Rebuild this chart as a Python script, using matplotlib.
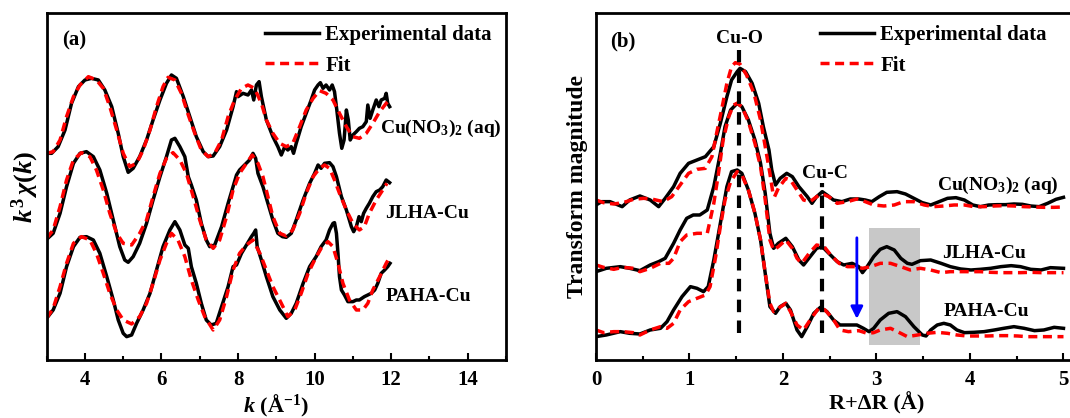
import matplotlib
matplotlib.use('Agg')
import matplotlib.pyplot as plt
from matplotlib.patches import Rectangle

plt.rcParams['font.family'] = ['Liberation Serif', 'DejaVu Serif']
plt.rcParams['font.weight'] = 'bold'
plt.rcParams['axes.labelweight'] = 'bold'
plt.rcParams['mathtext.fontset'] = 'custom'
plt.rcParams['mathtext.rm'] = 'Liberation Serif:bold'
plt.rcParams['mathtext.it'] = 'Liberation Serif:bold:italic'
plt.rcParams['mathtext.bf'] = 'Liberation Serif:bold'

# ---- panel (a): k^3 chi(k), values relative to each curve's baseline ----
cu_k = [3.00, 3.13, 3.30, 3.48, 3.65, 3.83, 4.00, 4.17, 4.35, 4.52, 4.70, 4.87, 5.00, 5.13, 5.26, 5.43,
        5.61, 5.78, 5.96, 6.13, 6.26, 6.39, 6.57, 6.74, 6.91, 7.09, 7.22, 7.35, 7.52, 7.70, 7.87, 7.96,
        8.00, 8.13, 8.26, 8.35, 8.41, 8.48, 8.55, 8.61, 8.74, 8.91, 9.04, 9.13, 9.22, 9.30, 9.39, 9.45,
        9.52, 9.65, 9.78, 9.91, 10.00, 10.09, 10.15, 10.22, 10.30, 10.39, 10.46, 10.52, 10.58, 10.65,
        10.71, 10.77, 10.83, 10.88, 10.93, 11.00, 11.09, 11.17, 11.26, 11.35, 11.39, 11.45, 11.52,
        11.61, 11.68, 11.74, 11.83, 11.87, 11.91, 11.96]
cu_exp = [2.0, 2.0, 4.0, 9.0, 17.0, 22.0, 24.0, 24.5, 24.0, 21.0, 16.0, 8.0, 1.0, -3.7, -2.5, 1.0,
          6.0, 12.0, 18.0, 23.0, 25.5, 24.5, 19.0, 13.0, 7.0, 2.5, 1.0, 1.2, 4.0, 9.0, 16.0, 20.5,
          19.0, 20.0, 19.5, 21.0, 18.0, 22.5, 23.5, 19.0, 12.0, 7.0, 4.0, 1.5, 4.0, 3.0, 4.0, 2.0,
          5.0, 10.0, 14.0, 18.0, 21.0, 22.5, 23.2, 21.5, 22.5, 21.0, 22.5, 20.5, 15.0, 8.0,
          3.5, 6.0, 15.0, 12.0, 6.0, 7.5, 8.5, 9.5, 10.0, 11.5, 16.5, 12.5, 15.0,
          18.0, 16.0, 18.0, 18.5, 20.0, 17.0, 16.0]
cu_fit_k = [3.00, 3.17, 3.35, 3.52, 3.70, 3.87, 4.09, 4.30, 4.48, 4.65, 4.83, 5.00, 5.17, 5.35, 5.52,
            5.70, 5.87, 6.04, 6.17, 6.35, 6.52, 6.70, 6.87, 7.04, 7.22, 7.39, 7.57, 7.74, 7.91, 8.09,
            8.26, 8.43, 8.61, 8.74, 8.91, 9.09, 9.26, 9.43, 9.61, 9.78, 9.96, 10.13, 10.30, 10.48,
            10.65, 10.83, 11.00, 11.17, 11.35, 11.52, 11.70, 11.87, 11.97]
cu_fit = [2.0, 2.5, 6.0, 13.0, 19.0, 22.5, 25.0, 24.0, 21.5, 16.0, 9.0, 2.0, -2.0, -1.0, 3.0,
          9.0, 16.0, 22.0, 24.8, 24.0, 20.0, 13.5, 8.0, 3.0, 1.0, 2.0, 6.0, 13.0, 18.0, 21.5,
          22.5, 21.5, 17.0, 12.0, 8.0, 5.0, 4.0, 5.0, 10.0, 15.0, 18.5, 20.8, 20.0, 18.0,
          14.0, 10.0, 7.0, 6.5, 8.0, 11.0, 14.5, 17.0, 18.0]

jl_k = [3.00, 3.17, 3.35, 3.52, 3.70, 3.87, 4.04, 4.22, 4.39, 4.57, 4.74, 4.91, 5.04, 5.13, 5.26, 5.43,
        5.61, 5.78, 5.96, 6.13, 6.26, 6.35, 6.48, 6.61, 6.70, 6.78, 6.91, 7.04, 7.17, 7.26, 7.39, 7.57,
        7.74, 7.87, 7.96, 8.04, 8.17, 8.30, 8.39, 8.46, 8.52, 8.65, 8.78, 8.91, 9.04, 9.16, 9.26, 9.39,
        9.52, 9.70, 9.87, 10.00, 10.09, 10.17, 10.26, 10.39, 10.48, 10.57, 10.70, 10.83, 10.96, 11.02,
        11.09, 11.16, 11.22, 11.28, 11.35, 11.43, 11.52, 11.61, 11.70, 11.78, 11.87, 11.96]
jl_exp = [0.2, 2.0, 8.0, 16.0, 23.0, 26.0, 26.5, 25.0, 21.0, 14.0, 6.0, -2.0, -6.0, -6.7, -5.0, -1.0,
          5.0, 12.0, 19.0, 25.0, 30.0, 30.5, 28.0, 25.0, 19.0, 16.5, 12.0, 5.0, 0.0, -2.0, -1.5, 4.0,
          11.0, 16.0, 19.5, 21.0, 22.5, 24.0, 26.0, 24.5, 20.0, 16.0, 11.0, 6.0, 2.0, 1.0, 0.8, 2.0,
          6.0, 12.0, 17.0, 20.0, 22.5, 21.5, 23.0, 23.2, 22.0, 19.0, 13.0, 9.0, 4.0, 2.5,
          4.0, 7.0, 5.5, 8.0, 9.5, 11.0, 13.0, 14.5, 15.0, 16.0, 18.0, 17.2]
jl_fit_k = [3.00, 3.17, 3.35, 3.52, 3.70, 3.91, 4.13, 4.30, 4.48, 4.65, 4.83, 5.00, 5.22, 5.43, 5.61,
            5.78, 5.96, 6.13, 6.30, 6.48, 6.65, 6.83, 7.00, 7.17, 7.35, 7.52, 7.70, 7.87, 8.04, 8.22,
            8.37, 8.52, 8.65, 8.78, 8.91, 9.09, 9.26, 9.43, 9.61, 9.78, 9.96, 10.13, 10.26, 10.39,
            10.52, 10.65, 10.83, 11.00, 11.17, 11.30, 11.43, 11.61, 11.78, 11.89]
jl_fit = [0.5, 3.0, 10.0, 18.0, 24.0, 26.2, 25.0, 21.0, 15.0, 8.0, 2.0, -1.0, -1.5, 2.0, 6.0,
          13.0, 20.0, 24.5, 26.2, 24.0, 20.0, 13.0, 6.0, 0.0, -2.5, 0.0, 7.0, 15.0, 20.0, 23.0,
          25.5, 23.0, 19.0, 13.0, 7.0, 2.0, 1.2, 3.0, 8.0, 14.0, 19.0, 21.5, 22.5, 21.5,
          18.0, 14.0, 9.0, 5.0, 3.0, 4.0, 8.0, 12.0, 15.0, 17.0]

pa_k = [3.00, 3.17, 3.35, 3.52, 3.70, 3.87, 4.04, 4.22, 4.39, 4.57, 4.74, 4.87, 5.00, 5.09, 5.22, 5.35,
        5.52, 5.70, 5.87, 6.04, 6.22, 6.35, 6.48, 6.61, 6.70, 6.78, 6.91, 7.04, 7.17, 7.30, 7.43, 7.57,
        7.74, 7.87, 7.96, 8.09, 8.22, 8.35, 8.41, 8.46, 8.50, 8.61, 8.74, 8.91, 9.09, 9.26, 9.39, 9.52,
        9.70, 9.87, 10.04, 10.17, 10.30, 10.39, 10.48, 10.52, 10.57, 10.61, 10.65, 10.70, 10.78, 10.87,
        11.00, 11.09, 11.17, 11.30, 11.39, 11.48, 11.57, 11.65, 11.74, 11.83, 11.91, 11.97]
pa_exp = [0.5, 3.0, 8.0, 16.0, 22.0, 24.8, 25.0, 24.0, 20.0, 13.0, 6.0, 0.0, -4.0, -5.0, -4.5, -1.0,
          3.0, 8.0, 15.0, 22.0, 27.0, 29.5, 27.0, 22.5, 21.5, 16.0, 11.0, 5.0, 0.0, -1.5, -1.0, 4.0,
          10.0, 16.0, 16.5, 20.0, 22.5, 25.0, 26.0, 27.0, 22.0, 18.0, 13.0, 7.0, 3.0, 0.5, 2.0, 5.0,
          11.0, 16.0, 19.0, 22.0, 24.0, 27.0, 29.0, 29.2, 26.0, 20.0, 13.0, 9.0, 7.5, 5.5,
          5.5, 6.0, 6.0, 7.0, 7.5, 8.0, 9.0, 11.0, 14.0, 15.0, 16.0, 17.0]
pa_fit_k = [3.00, 3.17, 3.35, 3.52, 3.70, 3.91, 4.13, 4.30, 4.48, 4.65, 4.83, 5.00, 5.22, 5.43, 5.61,
            5.78, 5.96, 6.13, 6.26, 6.43, 6.61, 6.78, 6.96, 7.13, 7.35, 7.52, 7.70, 7.87, 8.04, 8.22,
            8.39, 8.57, 8.74, 8.91, 9.13, 9.30, 9.48, 9.65, 9.83, 10.00, 10.17, 10.35, 10.48, 10.61,
            10.74, 10.91, 11.09, 11.26, 11.39, 11.52, 11.70, 11.87, 11.97]
pa_fit = [0.5, 3.5, 10.0, 17.0, 23.0, 25.0, 24.0, 20.0, 14.0, 8.0, 3.0, 0.0, -1.2, 1.0, 5.0,
          11.0, 18.0, 23.0, 26.0, 24.0, 19.0, 12.0, 6.0, 1.0, -3.0, 0.0, 7.0, 15.0, 20.0, 22.5,
          24.0, 20.0, 15.0, 10.0, 5.0, 1.0, 3.0, 8.0, 14.0, 18.0, 21.5, 23.5, 22.0, 17.0,
          11.0, 6.0, 3.0, 3.0, 5.0, 9.0, 13.0, 17.0, 19.0]

# ---- panel (b): Fourier transform magnitude, relative to baselines ----
cu_r = [0.00, 0.06, 0.15, 0.28, 0.36, 0.47, 0.58, 0.67, 0.74, 0.83, 0.90, 0.99, 1.08, 1.17, 1.26, 1.33,
        1.40, 1.45, 1.51, 1.54, 1.60, 1.67, 1.74, 1.79, 1.85, 1.88, 1.92, 1.97, 2.04, 2.10, 2.17, 2.26,
        2.31, 2.36, 2.42, 2.47, 2.54, 2.63, 2.72, 2.81, 2.88, 2.95, 3.03, 3.11, 3.22, 3.31, 3.40, 3.49,
        3.58, 3.67, 3.76, 3.85, 3.94, 4.03, 4.11, 4.20, 4.29, 4.38, 4.47, 4.56, 4.65, 4.74, 4.83, 4.92, 5.00]
cu_ft = [0.0, 1.0, 1.0, -0.5, 1.5, 2.7, 1.5, -0.5, 2.0, 5.5, 9.5, 12.5, 13.5, 14.5, 17.5, 24.5,
         32.5, 37.5, 40.0, 41.0, 40.0, 36.5, 30.5, 23.5, 16.5, 10.5, 6.0, 8.0, 9.5, 8.5, 5.5, 2.5,
         0.5, 2.5, 4.0, 3.0, 1.5, 1.0, 1.8, 1.8, 1.5, 1.0, 2.5, 3.8, 4.0, 3.3, 2.0, 0.7,
         0.0, 1.0, 2.0, 2.2, 1.5, 0.0, -0.5, 0.0, 0.1, 0.1, 0.3, 0.2, -0.3, -0.5, 0.5, 1.7, 2.3]
cu_ft_fit_r = [0.00, 0.08, 0.19, 0.29, 0.40, 0.51, 0.61, 0.72, 0.81, 0.90, 0.99, 1.08, 1.17, 1.24, 1.29,
               1.35, 1.40, 1.45, 1.49, 1.54, 1.61, 1.69, 1.76, 1.81, 1.86, 1.89, 1.91, 1.95, 2.03, 2.08,
               2.15, 2.22, 2.29, 2.36, 2.42, 2.49, 2.58, 2.69, 2.79, 2.88, 2.97, 3.08, 3.19, 3.29, 3.40,
               3.51, 3.61, 3.72, 3.83, 3.94, 4.04, 4.15, 4.26, 4.36, 4.47, 4.58, 4.69, 4.79, 4.90, 5.00]
cu_ft_fit = [1.5, 0.7, 0.3, 0.7, 1.7, 2.0, 1.7, 1.0, 2.5, 6.0, 9.5, 10.7, 11.0, 14.5, 21.5,
             29.5, 36.5, 41.5, 42.7, 42.3, 39.0, 33.5, 25.5, 17.5, 9.5, 4.0, 2.5, 5.0, 8.0, 7.5,
             4.5, 1.5, 1.0, 2.5, 3.3, 2.5, 0.5, 1.0, 1.8, 1.0, 0.0, -0.3, 0.0, 1.0, 1.0,
             0.0, -0.5, -0.3, 0.0, 0.0, -0.5, -0.5, -0.3, -0.2, -0.3, -0.5, -0.6, -0.7, -0.7, -0.6]

jl_r = [0.00, 0.11, 0.26, 0.36, 0.47, 0.58, 0.67, 0.74, 0.83, 0.90, 0.97, 1.04, 1.11, 1.19, 1.26, 1.33,
        1.38, 1.44, 1.51, 1.56, 1.63, 1.70, 1.76, 1.81, 1.86, 1.90, 1.95, 2.03, 2.10, 2.17, 2.22, 2.29,
        2.36, 2.42, 2.49, 2.58, 2.65, 2.74, 2.81, 2.85, 2.90, 2.97, 3.04, 3.11, 3.19, 3.26, 3.33, 3.38,
        3.47, 3.58, 3.69, 3.79, 3.90, 4.01, 4.11, 4.22, 4.33, 4.44, 4.54, 4.65, 4.76, 4.86, 5.00]
jl_ft = [0.0, 1.0, 1.5, 1.0, 0.3, 2.0, 3.0, 4.0, 8.5, 12.5, 16.0, 17.0, 17.0, 18.5, 25.5, 35.5,
         43.5, 48.5, 50.5, 49.5, 45.5, 39.5, 32.5, 23.5, 11.5, 7.0, 8.5, 10.0, 7.5, 3.5, 2.0, 4.5,
         7.0, 7.5, 5.5, 3.0, 2.0, 2.5, 1.5, -0.3, 1.5, 4.5, 6.7, 7.5, 6.5, 4.0, 2.5, 2.2,
         3.3, 3.5, 2.5, 1.5, 0.8, 0.5, 0.7, 1.0, 1.5, 1.8, 1.5, 0.7, 0.5, 1.2, 1.0]
jl_ft_fit_r = [0.00, 0.08, 0.19, 0.29, 0.40, 0.47, 0.58, 0.69, 0.78, 0.83, 0.90, 0.97, 1.08, 1.19, 1.26,
               1.31, 1.36, 1.42, 1.47, 1.51, 1.56, 1.63, 1.70, 1.76, 1.81, 1.86, 1.90, 1.95, 2.03, 2.10,
               2.15, 2.20, 2.28, 2.36, 2.44, 2.51, 2.60, 2.69, 2.78, 2.85, 2.94, 3.04, 3.15, 3.26, 3.36,
               3.47, 3.58, 3.69, 3.79, 3.90, 4.01, 4.11, 4.22, 4.33, 4.44, 4.54, 4.65, 4.76, 4.86, 5.00]
jl_ft_fit = [2.0, 1.3, 0.7, 1.3, 1.0, 0.0, 1.0, 2.5, 2.5, 4.0, 9.0, 11.0, 11.5, 11.5, 20.5,
             29.5, 39.5, 46.5, 50.0, 50.5, 49.5, 45.0, 38.5, 31.5, 21.5, 9.5, 6.5, 7.5, 9.5, 7.0,
             4.0, 2.5, 5.5, 8.0, 7.5, 5.0, 2.5, 1.5, 1.5, 1.0, 1.5, 2.5, 2.5, 1.5, 0.5,
             1.0, 0.5, -0.3, 0.0, 0.0, 0.0, 0.0, -0.2, -0.3, -0.3, -0.3, -0.2, -0.3, -0.3, -0.3]

pa_r = [0.00, 0.11, 0.26, 0.36, 0.47, 0.58, 0.69, 0.76, 0.83, 0.92, 1.01, 1.08, 1.15, 1.20, 1.26, 1.33,
        1.40, 1.45, 1.51, 1.56, 1.63, 1.70, 1.76, 1.81, 1.86, 1.92, 1.97, 2.03, 2.08, 2.15, 2.20, 2.26,
        2.33, 2.40, 2.47, 2.54, 2.61, 2.70, 2.79, 2.86, 2.92, 2.97, 3.04, 3.13, 3.22, 3.31, 3.40, 3.49,
        3.53, 3.58, 3.65, 3.72, 3.79, 3.86, 3.94, 4.04, 4.15, 4.26, 4.36, 4.47, 4.58, 4.69, 4.79, 4.90, 5.00]
pa_ft = [0.0, 0.5, 1.5, 1.0, 0.8, 2.0, 2.5, 4.5, 8.0, 12.0, 15.0, 14.5, 13.5, 15.0, 23.0, 34.0,
         45.0, 49.5, 50.0, 49.0, 44.0, 37.0, 29.0, 19.0, 9.0, 7.0, 9.0, 10.0, 8.0, 2.0, 0.0, 3.0,
         7.0, 8.8, 7.5, 5.0, 3.5, 3.5, 3.5, 2.5, 1.5, 2.5, 5.0, 7.0, 7.5, 6.0, 3.0, 0.5,
         0.2, 2.0, 3.5, 4.0, 3.5, 2.0, 1.2, 1.3, 1.5, 2.0, 2.5, 3.0, 2.5, 1.8, 2.0, 2.8, 2.5]
pa_ft_fit_r = [0.00, 0.08, 0.19, 0.29, 0.40, 0.47, 0.58, 0.69, 0.76, 0.83, 0.90, 0.99, 1.08, 1.17, 1.22,
               1.28, 1.33, 1.38, 1.44, 1.51, 1.56, 1.63, 1.70, 1.76, 1.81, 1.86, 1.90, 1.95, 2.03, 2.08,
               2.15, 2.22, 2.29, 2.38, 2.45, 2.53, 2.61, 2.70, 2.81, 2.90, 2.97, 3.04, 3.15, 3.26, 3.33,
               3.44, 3.54, 3.65, 3.76, 3.86, 3.97, 4.08, 4.19, 4.29, 4.40, 4.51, 4.61, 4.72, 4.83, 5.00]
pa_ft_fit = [2.0, 1.2, 1.5, 1.5, 1.2, 0.5, 2.0, 3.0, 2.5, 4.0, 8.0, 10.5, 11.5, 12.5, 15.0,
             24.0, 33.0, 41.0, 46.5, 49.5, 48.5, 44.0, 37.0, 29.0, 19.0, 10.0, 7.5, 8.5, 10.0, 7.5,
             3.5, 2.0, 5.0, 8.5, 8.0, 5.5, 2.0, 1.5, 1.8, 1.0, 1.2, 2.0, 2.5, 1.0, 0.0,
             0.5, 1.0, 1.3, 1.0, 0.5, 0.2, 0.2, 0.2, 0.3, 0.3, 0.2, 0.0, 0.0, 0.0, 0.0]

names = [r'Cu(NO$_3$)$_2$ (aq)', 'JLHA-Cu', 'PAHA-Cu']
offsets_a = [60, 36, 12]
offsets_b = [46.5, 26.5, 7.0]

fig = plt.figure(figsize=(10.7, 4.18), dpi=100)
ax1 = fig.add_axes([0.0436, 0.1388, 0.4293, 0.8293])
ax2 = fig.add_axes([0.557, 0.1388, 0.5243, 0.8293])

lw = 2.5
dash = (0, (2.6, 1.6))

series_a = [(cu_k, cu_exp, cu_fit_k, cu_fit), (jl_k, jl_exp, jl_fit_k, jl_fit), (pa_k, pa_exp, pa_fit_k, pa_fit)]
for (ke, ye, kf, yf), off in zip(series_a, offsets_a):
    ax1.plot(ke, [v + off for v in ye], color='black', lw=lw, label='Experimental data')
    ax1.plot(kf, [v + off for v in yf], color='red', lw=lw, ls=dash, label='Fit')

series_b = [(cu_r, cu_ft, cu_ft_fit_r, cu_ft_fit), (jl_r, jl_ft, jl_ft_fit_r, jl_ft_fit),
            (pa_r, pa_ft, pa_ft_fit_r, pa_ft_fit)]
for (re, ye, rf, yf), off in zip(series_b, offsets_b):
    ax2.plot(re, [v + off for v in ye], color='black', lw=lw, label='Experimental data')
    ax2.plot(rf, [v + off for v in yf], color='red', lw=lw, ls=dash, label='Fit')

# curve labels
for name, (x, y) in zip(names, [(11.70, 69.5), (11.85, 44), (11.85, 19)]):
    ax1.text(x, y, name, fontsize=14, va='center', ha='left')
for name, (x, y) in zip(names, [(3.65, 52.5), (3.70, 32), (3.72, 14.5)]):
    ax2.text(x, y, name, fontsize=14, va='center', ha='left')

# annotations in (b)
ax2.add_patch(Rectangle((2.92, 4.5), 0.55, 35, facecolor='#c8c8c8', edgecolor='none', zorder=0))
ax2.plot([1.525, 1.525], [8, 93], color='black', lw=3, ls=(0, (3, 2)))
ax2.plot([2.42, 2.42], [8, 53], color='black', lw=3, ls=(0, (3, 2)))
ax2.text(1.54, 96.5, 'Cu-O', fontsize=14, ha='center', va='center')
ax2.text(2.45, 56, 'Cu-C', fontsize=14, ha='center', va='center')
ax2.annotate('', xy=(2.79, 11.5), xytext=(2.79, 37.5),
             arrowprops=dict(arrowstyle='-|>', color='blue', lw=2, mutation_scale=18))

ax1.text(3.4, 96, '(a)', fontsize=15, va='center')
ax2.text(0.15, 95.5, '(b)', fontsize=15, va='center')

ax1.set_xlim(3, 15)
ax1.set_ylim(0, 104)
ax1.set_xticks([4, 6, 8, 10, 12, 14])
ax1.set_xticks([3, 5, 7, 9, 11, 13, 15], minor=True)
ax1.set_xlabel(r'$k$ (Å$^{-1}$)', fontsize=16, labelpad=2)
ax1.set_ylabel(r'$k^3\,\chi(k)$', fontsize=19, labelpad=4)

ax2.set_xlim(0, 6)
ax2.set_ylim(0, 104)
ax2.set_xticks([0, 1, 2, 3, 4, 5, 6])
ax2.set_xticks([0.5, 1.5, 2.5, 3.5, 4.5, 5.5], minor=True)
ax2.set_xlabel('R+ΔR (Å)', fontsize=16, labelpad=2)
ax2.set_ylabel('Transform magnitude', fontsize=17, labelpad=6)

for ax in (ax1, ax2):
    ax.set_yticks([])
    ax.tick_params(axis='x', which='major', direction='in', length=5, width=1.5, labelsize=15, pad=7)
    ax.tick_params(axis='x', which='minor', direction='in', length=3, width=1.5)
    for s in ax.spines.values():
        s.set_linewidth(2)

leg_a = ax1.legend(ax1.get_lines()[:2], ['Experimental data', 'Fit'], loc='upper left',
                   bbox_to_anchor=(0.475, 0.966), frameon=False, fontsize=15, handlelength=2.6,
                   handletextpad=0.3, borderpad=0, borderaxespad=0, labelspacing=0.5)
leg_b = ax2.legend(ax2.get_lines()[:2], ['Experimental data', 'Fit'], loc='upper left',
                   bbox_to_anchor=(0.399, 0.966), frameon=False, fontsize=15, handlelength=2.6,
                   handletextpad=0.3, borderpad=0, borderaxespad=0, labelspacing=0.5)

fig.savefig('out.png', dpi=100)
